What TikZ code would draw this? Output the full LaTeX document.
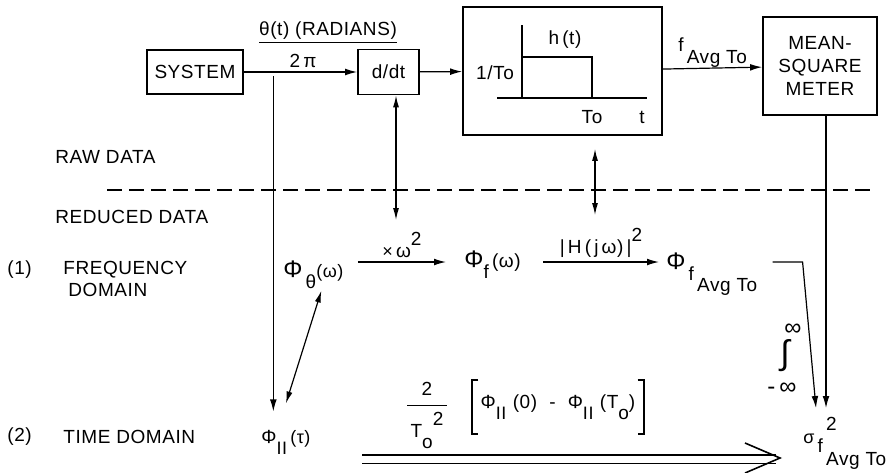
\documentclass[tikz,border=0pt]{standalone}
\usepackage{fontspec}
\setmainfont[LetterSpace=3]{Liberation Sans}
\usetikzlibrary{arrows.meta,positioning,calc}
\tikzset{
  ar/.style={-{Latex[length=6pt,width=3.4pt]},line width=0.6pt},
  dar/.style={{Latex[length=6pt,width=3pt]}-{Latex[length=6pt,width=3pt]},line width=0.6pt},
  blk/.style={draw,line width=0.9pt,inner sep=2pt,align=center},
  lbl/.style={inner sep=1pt},
  sidelbl/.style={inner sep=0pt,anchor=west}
}
\newcommand{\lo}[1]{\raisebox{-5.5pt}{#1}}
\newcommand{\hi}[1]{\raisebox{6pt}{#1}}
\newcommand{\bigphi}{{\fontsize{12}{12}\selectfont Φ}}

\begin{document}
\begin{tikzpicture}[x=0.5pt,y=-0.5pt,font=\fontsize{9.5}{11.5}\selectfont]
\useasboundingbox (0,0) rectangle (887,472);
% blocks of the raw data chain
\node[blk,minimum width=48pt,minimum height=22pt] (sys) at (195,72) {SYSTEM};
\node[blk,minimum width=30.5pt,minimum height=22.5pt] (ddt) at (388.5,72) {d/dt};
\node[blk,minimum width=99.5pt,minimum height=64pt] (filt) at (562.5,71) {};
\node[blk,minimum width=57pt,minimum height=49pt] (msm) at (820,66) {MEAN-\\SQUARE\\METER};
% impulse response inside the filter
\draw[line width=0.8pt] (522,25) -- (522,98);
\draw[line width=0.8pt] (522,57) -- (592,57) -- (592,98);
\draw[line width=0.8pt] (497,98) -- (647,98);
\node[lbl] (hlbl) at (565,40) {h\,(t)};
\node[lbl] (amp) at (495,73) {1/To};
\node[lbl] (tolbl) at (592,117) {To};
\node[lbl] (tlbl) at (642,117) {t};
% top connectors
\draw[ar] (sys) -- (ddt);
\draw[ar] (ddt) -- (filt);
\draw[ar] (filt) -- (msm);
\node[lbl] (thlbl) at (328,33) {\underline{θ(t) (RADIANS)}};
\node[lbl] (twopi) at (303,61) {2\,π};
\node[lbl,anchor=base west] (favg) at (676,51) {f\,\raisebox{-6pt}{Avg To}};
\coordinate (tap) at ($(sys.east)!0.26!(ddt.west)$);
% rows
\node[sidelbl] (raw) at (55,157) {RAW DATA};
\draw[line width=0.6pt,dash pattern=on 7.5pt off 3.5pt] (107,190) -- (877,190);
\node[sidelbl] (red) at (55,217) {REDUCED DATA};
\node[sidelbl] (one) at (7,270) {(1)};
\node[sidelbl] (freq) at (63,270) {FREQUENCY};
\node[sidelbl] (dom) at (68,290) {DOMAIN};
\node[sidelbl] (two) at (7,437) {(2)};
\node[sidelbl] (time) at (63,437) {TIME DOMAIN};
% reduced data quantities
\coordinate (freqrow) at (0,262);
\node[lbl,anchor=base west] (phith) at (281,277) {\bigphi\,\lo{θ}{\small(ω)}};
\node[lbl,anchor=base west] (phif) at (462,267) {\bigphi\lo{f}\,(ω)};
\node[lbl,anchor=base west] (phifa) at (664,269) {\bigphi\,\lo{f\,\lo{Avg To}}};
\node[lbl,anchor=base west] (phiII) at (259,443) {Φ\lo{\small II}\,{\small(τ)}};
\node[lbl,anchor=base west] (sig) at (801,443) {{\small σ}\,\raisebox{-4.5pt}{f\,\rlap{\raisebox{11pt}{2}}\raisebox{-6.5pt}{Avg To}}};
% frequency domain chain
\draw[ar] ([xshift=6pt]phith.east |- freqrow) -- ([xshift=-8pt]phif.west |- freqrow)
  node[midway,above=1pt,lbl] (wsq) {{\small×}\,ω\hi{2}};
\draw[ar] ([xshift=10pt]phif.east |- freqrow) -- ([xshift=-2.5pt]phifa.west |- freqrow)
  node[midway,above=1pt,lbl] (hsq) {|\,H\,(\,j\,ω)\,|\hi{2}};
\coordinate (sigin) at (816,408);
\draw[ar] ([xshift=6.5pt]phifa.east |- freqrow) -- ++(30,0) -- (sigin);
\node[lbl,font=\fontsize{12}{12}\selectfont] (intinf) at (793,330) {∞};
\node[lbl,font=\fontsize{17}{17}\selectfont] (intsym) at (785,356) {∫};
\node[lbl,font=\fontsize{12}{12}\selectfont] (intminf) at (782,389) {-\,∞};
\draw[ar] ([xshift=3pt]msm.south) -- ([xshift=3pt]msm.south |- sigin);
% vertical links raw to reduced
\coordinate (ddtlow) at (396,220);
\draw[dar] (ddt.south -| ddtlow) -- (ddtlow);
\coordinate (filtlow) at (595,215);
\draw[dar,shorten <=6.5pt] (filt.south -| filtlow) -- (filtlow);
\draw[ar] ([yshift=-2pt]tap) -- ([yshift=8pt]phiII.north -| tap);
\draw[dar] ([xshift=0pt,yshift=12pt]phiII.north) -- ([xshift=4pt]phith.south);
% time domain
\node[lbl] (frac) at (427,414) {\begin{tabular}{@{\,}c@{\,}}2\\[1pt]\hline\rule{0pt}{16pt}T\lo{o}\hi{2}\end{tabular}};
\node[lbl,inner xsep=4pt,inner ysep=7pt] (brk) at (558,407) {Φ\lo{\small II}\,\,(0)\,\, - \,\,Φ\lo{\small II}\,\,(T\lo{o})};
\draw[line width=0.9pt] ([xshift=3pt]brk.north west) -- (brk.north west) -- (brk.south west) -- ([xshift=3pt]brk.south west);
\draw[line width=0.9pt] ([xshift=-3pt]brk.north east) -- (brk.north east) -- (brk.south east) -- ([xshift=-3pt]brk.south east);
\coordinate (tdstart) at (362,459);
\coordinate (tdend) at (780,458);
\draw[double,double distance=3.5pt,line width=0.6pt] (tdstart) -- ([xshift=-2pt]tdstart -| tdend);
\draw[line width=0.8pt] ([shift={(-17.5pt,7.5pt)}]tdend) -- (tdend) -- ([shift={(-17.5pt,-7.5pt)}]tdend);
\end{tikzpicture}
\end{document}
